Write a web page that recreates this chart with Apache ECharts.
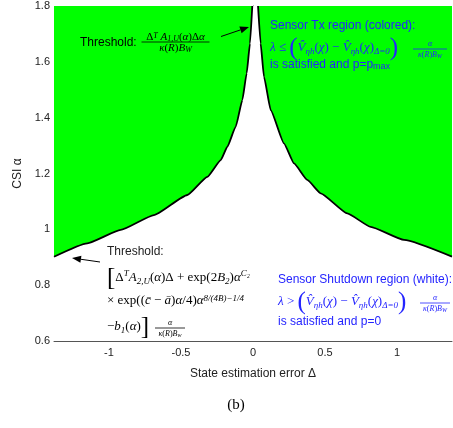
<!DOCTYPE html>
<html>
<head>
<meta charset="utf-8">
<script src="https://cdn.jsdelivr.net/npm/echarts@6/dist/echarts.min.js"></script>
<style>
  html, body { margin: 0; padding: 0; background: #fff; }
  #chart { width: 453px; height: 428px; }
</style>
</head>
<body>
<div id="chart"></div>
<script>
// threshold curve, left branch (delta < 0) and right branch
const leftDelta = [-1.382, -1.151, -0.919, -0.688, -0.456, -0.317, -0.224, -0.178, -0.120, -0.074, -0.044, -0.021, -0.005]
const leftCsi = [0.902, 0.950, 0.998, 1.051, 1.123, 1.188, 1.248, 1.296, 1.368, 1.463, 1.559, 1.666, 1.8]
const rightDelta = [0.035, 0.053, 0.076, 0.123, 0.215, 0.285, 0.377, 0.470, 0.655, 0.817, 1.049, 1.382]
const rightCsi = [1.8, 1.666, 1.547, 1.427, 1.308, 1.236, 1.177, 1.129, 1.057, 1.009, 0.962, 0.902]
const xTicks = [-1, -0.5, 0, 0.5, 1]

const leftPts = leftDelta.map((d, i) => [d, leftCsi[i]])
const rightPts = rightDelta.map((d, i) => [d, rightCsi[i]])

const sans = '"Liberation Sans", Arial, sans-serif'
const serif = '"Liberation Serif", "DejaVu Serif", serif'
const blue = '#2424ff'

function mathRich (size, color) {
  return {
    r: { fontFamily: serif, fontSize: size, fill: color },
    i: { fontFamily: serif, fontSize: size, fill: color, fontStyle: 'italic' },
    sup: { fontFamily: serif, fontSize: Math.round(size * 0.72), fill: color, fontStyle: 'italic', verticalAlign: 'top' },
    sub: { fontFamily: serif, fontSize: Math.round(size * 0.72), fill: color, fontStyle: 'italic', verticalAlign: 'bottom' },
    big: { fontFamily: serif, fontSize: Math.round(size * 1.9), fill: color, lineHeight: size + 4 },
    t: { fontFamily: sans, fontSize: 12, fill: color },
    ts: { fontFamily: sans, fontSize: 9, fill: color, verticalAlign: 'bottom' }
  }
}

function txt (x, y, text, color, size, align) {
  return {
    type: 'text', x: x, y: y, z: 100,
    style: {
      text: text, rich: mathRich(size || 11, color), fill: color,
      font: '12px ' + sans, align: align || 'left', verticalAlign: 'middle'
    }
  }
}

function frac (cx, cy, w, num, den, color, size) {
  return [
    txt(cx, cy - 5, num, color, size, 'center'),
    { type: 'line', z: 100, shape: { x1: cx - w / 2, y1: cy, x2: cx + w / 2, y2: cy }, style: { stroke: color, lineWidth: 0.8 } },
    txt(cx, cy + 6, den, color, size, 'center')
  ]
}

function arrow (x1, y1, x2, y2) {
  const a = Math.atan2(y2 - y1, x2 - x1)
  const L = 9
  const W = 3.5
  const bx = x2 - L * Math.cos(a)
  const by = y2 - L * Math.sin(a)
  return [
    { type: 'line', z: 100, shape: { x1: x1, y1: y1, x2: bx, y2: by }, style: { stroke: '#000', lineWidth: 1 } },
    {
      type: 'polygon', z: 100,
      shape: { points: [[x2, y2], [bx - W * Math.sin(a), by + W * Math.cos(a)], [bx + W * Math.sin(a), by - W * Math.cos(a)]] },
      style: { fill: '#000' }
    }
  ]
}

const vhat = 'V\u0302'
const graphics = [].concat(
  // upper left threshold
  [txt(80, 43, '{t|Threshold:}', '#000')],
  frac(175.5, 42, 68, '{r|Δ}{sup|T}{r| }{i|A}{sub|1,U}{r|(}{i|α}{r|)Δ}{i|α}', '{i|κ}{r|(}{i|R}{r|)}{i|B}{sub|W}', '#000', 11),
  arrow(221, 36.5, 249, 27),
  // sensor Tx region
  [
    txt(270, 26, '{t|Sensor Tx region (colored):}', blue),
    txt(270, 48, '{i|λ}{r| ≤ }{big|(}{i|' + vhat + '}{sub|ηh}{r|(}{i|χ}{r|) − }{i|' + vhat + '}{sub|ηh}{r|(}{i|χ}{r|)}{sub|Δ=0}{big|)}', blue, 13),
    txt(270, 65, '{t|is satisfied and p=p}{ts|max}', blue)
  ],
  frac(430, 49, 34, '{i|α}', '{i|κ}{r|(}{i|R}{r|)}{i|B}{sub|W}', blue, 8),
  // lower left threshold
  [
    txt(107, 252, '{t|Threshold:}', '#222'),
    txt(107, 278, '{big|[}{r|Δ}{sup|T}{i|A}{sub|2,U}{r|(}{i|α}{r|)Δ + exp(2}{i|B}{sub|2}{r|)}{i|α}{sup|C₂}', '#000', 13),
    txt(107, 301, '{r|× exp((}{i|c̄}{r| − }{i|ā}{r|)}{i|α}{r|/4)}{i|α}{sup|8/(4B)−1/4}', '#000', 13),
    txt(107, 327, '{r|−}{i|b}{sub|1}{r|(}{i|α}{r|)}{big|]}', '#000', 13)
  ],
  frac(170, 328, 30, '{i|α}', '{i|κ}{r|(}{i|R}{r|)}{i|B}{sub|w}', '#000', 8),
  arrow(100, 262, 72, 258),
  // sensor shutdown region
  [
    txt(278, 280, '{t|Sensor Shutdown region (white):}', blue),
    txt(278, 302, '{i|λ}{r| > }{big|(}{i|' + vhat + '}{sub|ηh}{r|(}{i|χ}{r|) − }{i|' + vhat + '}{sub|ηh}{r|(}{i|χ}{r|)}{sub|Δ=0}{big|)}', blue, 13),
    txt(278, 322, '{t|is satisfied and p=0}', blue)
  ],
  frac(435, 303, 30, '{i|α}', '{i|κ}{r|(}{i|R}{r|)}{i|B}{sub|W}', blue, 8),
  // panel label
  [{ type: 'text', x: 236, y: 405, style: { text: '(b)', font: '15px ' + serif, fill: '#000', align: 'center', verticalAlign: 'middle' } }]
)

const chart = echarts.init(document.getElementById('chart'))
chart.setOption({
  animation: false,
  grid: { left: 54, right: 1, top: 6, bottom: 87, show: true, backgroundColor: '#00ff00', borderWidth: 0 },
  xAxis: {
    type: 'value', min: -1.382, max: 1.382,
    name: 'State estimation error Δ', nameLocation: 'middle', nameGap: 27,
    nameTextStyle: { fontFamily: sans, fontSize: 12, color: '#222' },
    axisLine: { lineStyle: { color: '#555', width: 1 } },
    axisTick: { show: false },
    splitLine: { show: false },
    axisLabel: { customValues: xTicks, fontFamily: sans, fontSize: 11, color: '#222', margin: 6 }
  },
  yAxis: {
    type: 'value', min: 0.6, max: 1.8, interval: 0.2,
    name: 'CSI α', nameLocation: 'middle', nameGap: 30,
    nameTextStyle: { fontFamily: sans, fontSize: 12, color: '#222' },
    axisLine: { show: true, lineStyle: { color: '#555', width: 1 } },
    axisTick: { show: false },
    splitLine: { show: false },
    axisLabel: { fontFamily: sans, fontSize: 11, color: '#222', margin: 4 }
  },
  series: [
    {
      // white shutdown region under the threshold
      type: 'line', data: leftPts.concat(rightPts), symbol: 'none', smooth: 0.15, smoothMonotone: 'x',
      lineStyle: { width: 0 }, areaStyle: { color: '#fff', opacity: 1, origin: 'start' }, z: 1
    },
    {
      type: 'line', data: leftPts, symbol: 'none', smooth: 0.15, smoothMonotone: 'x',
      lineStyle: { color: '#000', width: 1.8 }, z: 2
    },
    {
      type: 'line', data: rightPts, symbol: 'none', smooth: 0.15, smoothMonotone: 'x',
      lineStyle: { color: '#000', width: 1.8 }, z: 2
    }
  ],
  graphic: graphics
})
</script>
</body>
</html>
